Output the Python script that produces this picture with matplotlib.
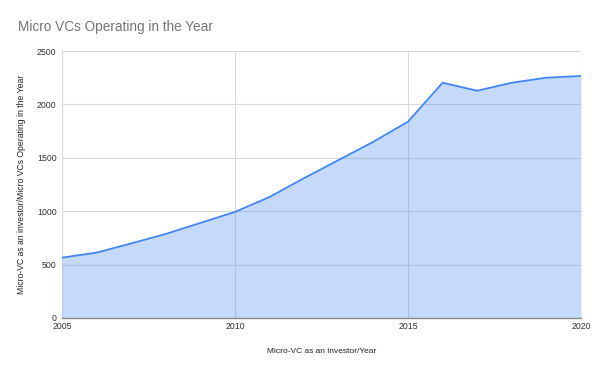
import numpy as np
import matplotlib.pyplot as plt

plt.rcParams['font.family'] = ['Liberation Sans', 'DejaVu Sans']

# data
years = [2005, 2006, 2007, 2008, 2009, 2010, 2011, 2012, 2013, 2014,
         2015, 2016, 2017, 2018, 2019, 2020]
micro_vcs = [565, 612, 698, 787, 890, 993, 1133, 1310, 1480, 1650,
             1838, 2203, 2128, 2203, 2250, 2266]
y_ticks = [0, 500, 1000, 1500, 2000, 2500]
x_ticks = [2005, 2010, 2015, 2020]

fig = plt.figure(figsize=(6, 3.71), dpi=100)
ax = fig.add_axes([0.1033, 0.1429, 0.8650, 0.7196])

ax.fill_between(years, micro_vcs, 0, color='#4285F4', alpha=0.3, linewidth=0, zorder=3)
ax.plot(years, micro_vcs, color='#4285F4', linewidth=1.3, zorder=4)

ax.set_xlim(2005, 2020)
ax.set_ylim(0, 2500)
ax.set_xticks(x_ticks)
ax.set_yticks(y_ticks)
ax.grid(True, color='#d9d9d9', linewidth=0.8, zorder=1)
ax.set_axisbelow(True)

for side in ['top', 'right', 'left']:
    ax.spines[side].set_visible(False)
ax.spines['bottom'].set_color('#888888')
ax.spines['bottom'].set_linewidth(1.0)
ax.spines['bottom'].set_zorder(5)

ax.tick_params(axis='both', length=0, labelsize=6.3, labelcolor='#333333')
ax.tick_params(axis='x', pad=3)
ax.tick_params(axis='y', pad=4)

ax.set_xlabel('Micro-VC as an investor/Year', fontsize=6, color='#222222', labelpad=12)
ax.set_ylabel('Micro-VC as an investor/Micro VCs Operating in the Year',
              fontsize=6.2, color='#222222', labelpad=8)

fig.text(0.03, 0.927, 'Micro VCs Operating in the Year', fontsize=9.8,
         color='#757575', va='center', ha='left')

fig.savefig('out.png', dpi=100)
